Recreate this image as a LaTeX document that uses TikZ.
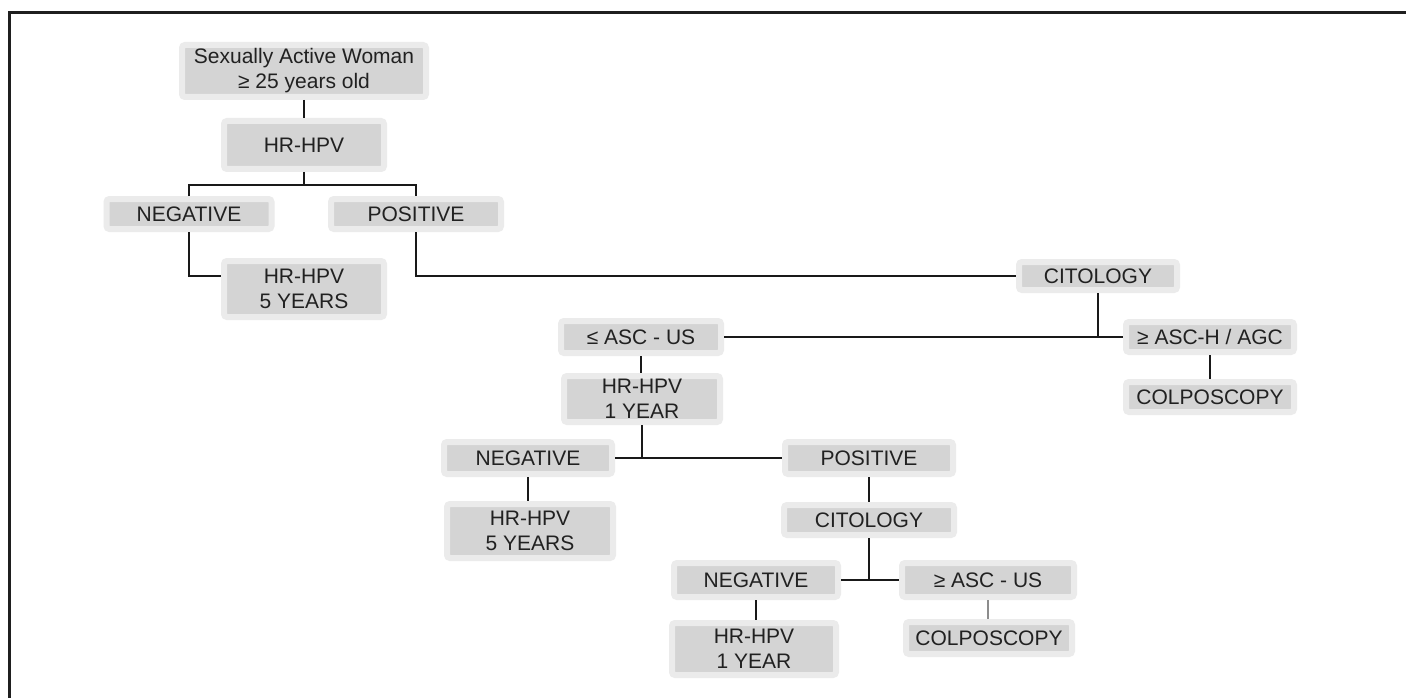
\documentclass[tikz,border=0pt]{standalone}
\usepackage{fontspec}
\setmainfont{Liberation Sans}
\begin{document}
\begin{tikzpicture}[x=1pt,y=-1pt,
  box/.style={rectangle, fill=black!17, draw=black!8, line width=6pt, rounded corners=3pt,
    text=black!87, align=center, font=\fontsize{21}{25}\selectfont, inner sep=0pt, outer sep=3pt},
  conn/.style={draw=black!90, line width=1.6pt},
  frameline/.style={draw=black!88, line width=2.2pt}]
\useasboundingbox (0,0) rectangle (1406,698);
\fill[white] (0,0) rectangle (1406,698);
\draw[frameline] (9.5,698) -- (9.5,12.5) -- (1406,12.5);

\node[box, minimum width=244, minimum height=52] (top) at (304,71) {Sexually Active Woman\\≥ 25 years old};
\node[box, minimum width=160, minimum height=48] (hr1) at (304,145) {HR-HPV};
\node[box, minimum width=165, minimum height=30] (neg1) at (189,214) {NEGATIVE};
\node[box, minimum width=170, minimum height=30] (pos1) at (416,214) {POSITIVE};
\node[box, minimum width=160, minimum height=56] (hr5a) at (304,289) {HR-HPV\\5 YEARS};
\node[box, minimum width=158, minimum height=28] (cit1) at (1098,276) {CITOLOGY};
\node[box, minimum width=160, minimum height=32] (asclo) at (641,337) {≤ ASC - US};
\node[box, minimum width=168, minimum height=30] (aschi) at (1210,337) {≥ ASC-H / AGC};
\node[box, minimum width=168, minimum height=30] (colpo1) at (1210,397) {COLPOSCOPY};
\node[box, minimum width=156, minimum height=46] (hr1y) at (642,399) {HR-HPV\\1 YEAR};
\node[box, minimum width=168, minimum height=32] (neg2) at (528,458) {NEGATIVE};
\node[box, minimum width=168, minimum height=32] (pos2) at (869,458) {POSITIVE};
\node[box, minimum width=166, minimum height=54] (hr5b) at (530,531) {HR-HPV\\5 YEARS};
\node[box, minimum width=170, minimum height=30] (cit2) at (869,520) {CITOLOGY};
\node[box, minimum width=164, minimum height=34] (neg3) at (756,580) {NEGATIVE};
\node[box, minimum width=172, minimum height=34] (asc2) at (988,580) {≥ ASC - US};
\node[box, minimum width=166, minimum height=32] (colpo2) at (989,638) {COLPOSCOPY};
\node[box, minimum width=164, minimum height=52] (hr1yb) at (754,649) {HR-HPV\\1 YEAR};

\coordinate (b1) at (304,185);
\draw[conn] (top.south) -- (top.south |- hr1.north);
\draw[conn] (hr1.south) -- (b1);
\draw[conn] (neg1.north) |- (b1) -| (pos1.north);
\draw[conn] (neg1.south) |- ([yshift=13pt]hr5a.west);
\draw[conn] (pos1.south) |- (cit1.west);
\draw[conn] (asclo.east) -- (aschi.west);
\draw[conn] (cit1.south) -- (cit1.south |- aschi.west);
\draw[conn] (asclo.south) -- (asclo.south |- hr1y.north);
\draw[conn] (aschi.south) -- (aschi.south |- colpo1.north);
\draw[conn] (neg2.east) -- (pos2.west);
\draw[conn] (hr1y.south) -- (hr1y.south |- pos2.west);
\draw[conn] (neg2.south) -- (neg2.south |- hr5b.north);
\draw[conn] (pos2.south) -- (pos2.south |- cit2.north);
\draw[conn] (neg3.east) -- (asc2.west);
\draw[conn] (cit2.south) -- (cit2.south |- asc2.west);
\draw[conn] (neg3.south) -- (neg3.south |- hr1yb.north);
\draw[conn, draw=black!45] (asc2.south) -- (asc2.south |- colpo2.north);
\end{tikzpicture}
\end{document}
